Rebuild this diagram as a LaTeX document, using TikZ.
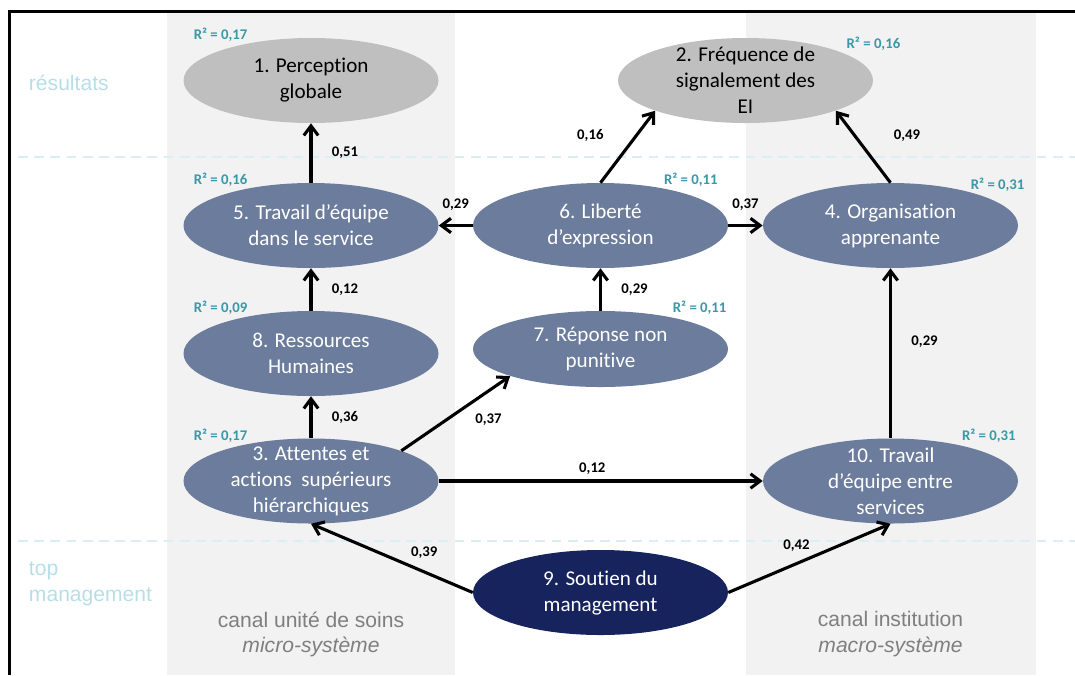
\documentclass[tikz,border=0pt]{standalone}
\usepackage{fontspec}
\setmainfont{Carlito}[Ligatures=NoCommon]
\newfontfamily\arialfont{Liberation Sans}
\usetikzlibrary{calc,positioning,shapes.geometric,arrows.meta}

\definecolor{colgray}{HTML}{F2F2F2}
\definecolor{outgray}{HTML}{BFBFBF}
\definecolor{varblue}{HTML}{6B7C9C}
\definecolor{topblue}{HTML}{16235C}
\definecolor{rsqteal}{HTML}{3A98A8}
\definecolor{tiercyan}{HTML}{B7DEE8}
\definecolor{dashcyan}{HTML}{DAEEF3}
\definecolor{canalgray}{HTML}{7F7F7F}

\tikzset{
  construct/.style={ellipse, minimum width=6.375cm, minimum height=2.125cm,
    inner ysep=-5pt, align=center, font=\fontsize{15}{18.5}\selectfont},
  outcome/.style={construct, fill=outgray, text=black},
  factor/.style={construct, fill=varblue, text=white},
  topfactor/.style={construct, fill=topblue, text=white},
  effect/.style={line width=2.2pt, -{Straight Barb[length=2.4mm,width=3.6mm]}},
  coef/.style={inner sep=1pt, font=\fontsize{10.5}{12}\selectfont\bfseries, text=black},
  rsq/.style={inner sep=1pt, font=\fontsize{10.5}{12}\selectfont\bfseries, text=rsqteal},
  tier/.style={anchor=west, align=left, text=tiercyan,
    font=\arialfont\fontsize{15}{18.4}\selectfont},
  canal/.style={align=center, text=canalgray,
    font=\arialfont\fontsize{15}{18.4}\selectfont},
  tiersep/.style={dashcyan, line width=1.4pt, dash pattern=on 7pt off 4.5pt}
}

\begin{document}
\begin{tikzpicture}
  \useasboundingbox (0,0) rectangle (26.875,-16.875);

  % canal columns
  \fill [colgray] (4.175,-.3) rectangle (11.375,-16.875);
  \fill [colgray] (18.65,-.3) rectangle (25.9,-16.875);

  \draw [line width=2pt] (.2425,-16.875) |- (26.875,-.2825);

  \draw [tiersep] (.45,-3.925) -- (26.875,-3.925);
  \draw [tiersep] (.45,-13.525) -- (26.875,-13.525);

  \node [tier] at (.6,-2.06) (res) {résultats};
  \node [tier] at (.6,-14.6) (topm) {top\\management};

  \node [canal] at (7.775,-15.86) (micro) {canal unité de soins\\\textit{micro-système}};
  \node [canal] at (22.2625,-15.86) (macro) {canal institution\\\textit{macro-système}};

  % constructs
  \node [outcome] at (7.775,-2.0125) (n1) {1. Perception\\globale};
  \node [outcome] at (18.6375,-2.0125) (n2) {2. Fréquence de\\signalement des\\EI};
  \node [factor] at (7.775,-5.6375) (n5) {5. Travail d’équipe\\dans le service};
  \node [factor] at (15.0125,-5.6375) (n6) {6. Liberté\\d’expression};
  \node [factor] at (22.2625,-5.6375) (n4) {4. Organisation\\apprenante};
  \node [factor] at (7.775,-8.8375) (n8) {8. Ressources\\Humaines};
  \node [factor, minimum height=1.9cm] at (15.0125,-8.725) (n7) {7. Réponse non\\punitive};
  \node [factor] at (7.775,-12.025) (n3) {3. Attentes et\\actions\ \ supérieurs\\hiérarchiques};
  \node [factor] at (22.2625,-12.025) (n10) {10. Travail\\d’équipe entre\\services};
  \node [topfactor] at (15.0125,-14.8125) (n9) {9. Soutien du\\management};

  % R2
  \node [rsq] at ($(n1.north west)+(0,.39)$) (r1) {R² = 0,17};
  \node [rsq] at ($(n2.north east)+(.94,.16)$) (r2) {R² = 0,16};
  \node [rsq] at ($(n5.north west)+(0,.39)$) (r5) {R² = 0,16};
  \node [rsq] at ($(n6.north east)+(0,.39)$) (r6) {R² = 0,11};
  \node [rsq] at ($(n4.north east)+(.42,.26)$) (r4) {R² = 0,31};
  \node [rsq] at ($(n8.north west)+(0,.39)$) (r8) {R² = 0,09};
  \node [rsq] at ($(n7.north east)+(.22,.35)$) (r7) {R² = 0,11};
  \node [rsq] at ($(n3.north west)+(0,.375)$) (r3) {R² = 0,17};
  \node [rsq] at ($(n10.north east)+(.2,.37)$) (r10) {R² = 0,31};

  % paths
  \draw [effect] (n5.north) -- (n1.south) node [coef, midway, right=4.5mm] {0,51};
  \draw [effect] (n8.north) -- (n5.south) node [coef, midway, right=4.5mm] {0,12};
  \draw [effect] (n3.north) -- (n8.south) node [coef, midway, right=4.5mm] {0,36};
  \draw [effect] (n7.north) -- (n6.south) node [coef, midway, right=4.5mm] {0,29};
  \draw [effect] (n10.north) -- (n4.south) node [coef, pos=.57, right=4.5mm] {0,29};
  \draw [effect] (n6.west) -- (n5.east) node [coef, midway, above=3mm] {0,29};
  \draw [effect] (n6.east) -- (n4.west) node [coef, midway, above=3mm] {0,37};
  \draw [effect] (n6.north) -- (n2.south west) node [coef, pos=.65, left=7.4mm] {0,16};
  \draw [effect] (n4.north) -- (n2.south east) node [coef, pos=.65, right=9mm] {0,49};
  \draw [effect] (n3.north east) -- (n7.south west) node [coef, pos=.8, below=5mm] {0,37};
  \draw [effect] (n3.east) -- (n10.west) node [coef, pos=.474, above=1mm] {0,12};
  \draw [effect] (n9.west) -- (n3.south) node [coef, pos=.3, above=2.5mm] {0,39};
  \draw [effect] (n9.east) -- (n10.south) node [coef, pos=.42, above=2.2mm] {0,42};

\end{tikzpicture}
\end{document}
